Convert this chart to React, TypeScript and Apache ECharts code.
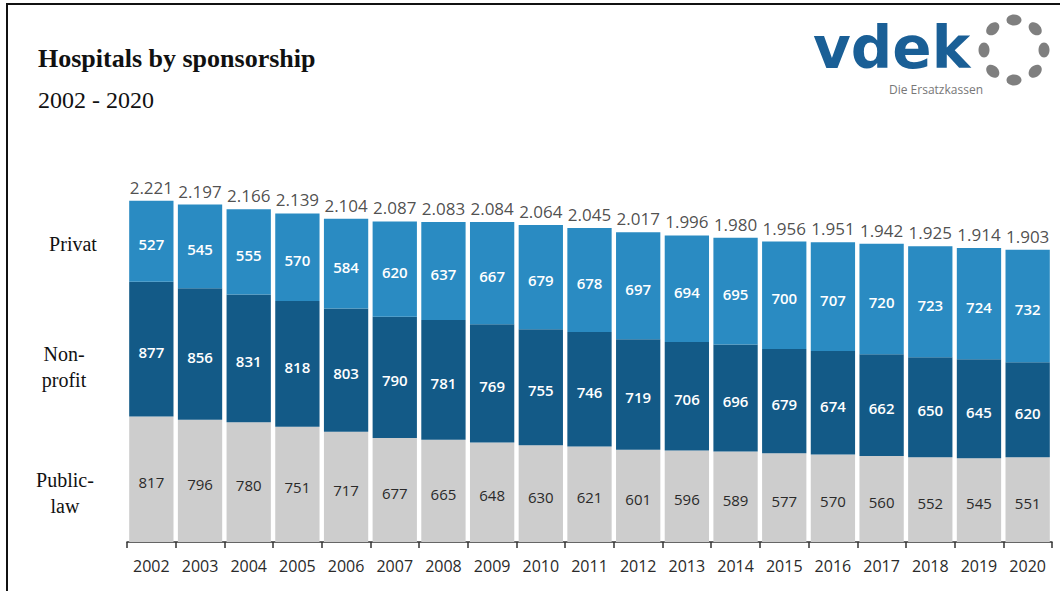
import React, { useEffect, useRef } from "react";
import * as echarts from "echarts";

const years = ["2002","2003","2004","2005","2006","2007","2008","2009","2010","2011","2012","2013","2014","2015","2016","2017","2018","2019","2020"];
const publicLaw = [817,796,780,751,717,677,665,648,630,621,601,596,589,577,570,560,552,545,551];
const nonProfit = [877,856,831,818,803,790,781,769,755,746,719,706,696,679,674,662,650,645,620];
const privat = [527,545,555,570,584,620,637,667,679,678,697,694,695,700,707,720,723,724,732];
const totals = [2221,2197,2166,2139,2104,2087,2083,2084,2064,2045,2017,1996,1980,1956,1951,1942,1925,1914,1903];

const fmt = (v: number) => {
  const s = String(Math.round(v));
  return s.length > 3 ? s.slice(0, s.length - 3) + "." + s.slice(-3) : s;
};

const SANS = "'Open Sans', 'DejaVu Sans', sans-serif";
const SERIF = "'Liberation Serif', 'DejaVu Serif', serif";

export default function App() {
  const ref = useRef<HTMLDivElement>(null);
  useEffect(() => {
    if (!ref.current) return;
    const chart = echarts.init(ref.current, null, { renderer: "svg" });
    const dots: any[] = [];
    const cx = 1014, cy = 50, r = 30;
    for (let i = 0; i < 8; i++) {
      const deg = -90 + i * 45;
      const a = deg * Math.PI / 180;
      dots.push({
        type: "ellipse",
        x: cx + r * Math.cos(a),
        y: cy + r * Math.sin(a),
        rotation: -a - Math.PI / 2,
        shape: { cx: 0, cy: 0, rx: 7.5, ry: 5.5 },
        style: { fill: "#7f7f7f" },
        silent: true,
      });
    }
    const segLabel = (color: string, weight: any) => ({
      show: true,
      position: "inside" as const,
      offset: [0, 3],
      color,
      fontFamily: SANS,
      fontSize: 15,
      fontWeight: weight,
    });
    chart.setOption({
      animation: false,
      backgroundColor: "#ffffff",
      grid: { left: 127, right: 8, top: 158, bottom: 49 },
      xAxis: {
        type: "category",
        data: years,
        axisLine: { show: true, lineStyle: { color: "#333333", width: 1.5 } },
        axisTick: { show: true, length: 6, lineStyle: { color: "#333333", width: 1.5 } },
        axisLabel: { color: "#2a2a2a", fontFamily: SANS, fontSize: 16, margin: 16 },
      },
      yAxis: {
        type: "value",
        min: 0,
        max: 2500,
        show: false,
        splitLine: { show: false },
      },
      series: [
        {
          name: "Public-law",
          type: "bar",
          stack: "t",
          data: publicLaw,
          barCategoryGap: "9%",
          itemStyle: { color: "#cdcdcd" },
          label: { ...segLabel("#2a2a2a", 500), formatter: (p: any) => fmt(p.value) },
        },
        {
          name: "Non-profit",
          type: "bar",
          stack: "t",
          data: nonProfit,
          itemStyle: { color: "#135a87" },
          label: { ...segLabel("#ffffff", 600), formatter: (p: any) => fmt(p.value) },
        },
        {
          name: "Privat",
          type: "bar",
          stack: "t",
          data: privat,
          itemStyle: { color: "#2a8bc2" },
          label: { ...segLabel("#ffffff", 600), formatter: (p: any) => fmt(p.value) },
        },
        {
          name: "Total",
          type: "scatter",
          data: totals,
          symbolSize: 0,
          label: {
            show: true,
            position: "top",
            distance: 5,
            color: "#222222",
            fontFamily: SANS,
            fontSize: 17,
            formatter: (p: any) => fmt(p.value),
          },
        },
      ],
      graphic: [
        {
          type: "rect",
          shape: { x: 7, y: 4, width: 1100, height: 700 },
          style: { fill: "none", stroke: "#111111", lineWidth: 2 },
          silent: true,
        },
        {
          type: "text",
          x: 38, y: 58,
          style: { text: "Hospitals by sponsorship", font: `bold 26px ${SERIF}`, fill: "#111111", verticalAlign: "middle" },
        },
        {
          type: "text",
          x: 38, y: 100,
          style: { text: "2002 - 2020", font: `24px ${SERIF}`, fill: "#111111", verticalAlign: "middle" },
        },
        {
          type: "text",
          x: 73, y: 244,
          style: { text: "Privat", font: `20px ${SERIF}`, fill: "#111111", align: "center", verticalAlign: "middle" },
        },
        {
          type: "text",
          x: 64, y: 367,
          style: { text: "Non-\nprofit", font: `20px ${SERIF}`, fill: "#111111", align: "center", verticalAlign: "middle", lineHeight: 26 },
        },
        {
          type: "text",
          x: 65, y: 493,
          style: { text: "Public-\nlaw", font: `20px ${SERIF}`, fill: "#111111", align: "center", verticalAlign: "middle", lineHeight: 26 },
        },
        {
          type: "text",
          x: 813, y: 48,
          style: { text: "vdek", font: `bold 58px 'DejaVu Sans', sans-serif`, fill: "#1a5f96", verticalAlign: "middle", lineHeight: 48 },
        },
        {
          type: "text",
          x: 983, y: 89,
          style: { text: "Die Ersatzkassen", font: `12px ${SANS}`, fill: "#777777", align: "right", verticalAlign: "middle" },
        },
        ...dots,
      ],
    });
    return () => chart.dispose();
  }, []);
  return (
    <div
      ref={ref}
      style={{ position: "fixed", left: 0, top: 0, width: 1060, height: 591 }}
    />
  );
}
